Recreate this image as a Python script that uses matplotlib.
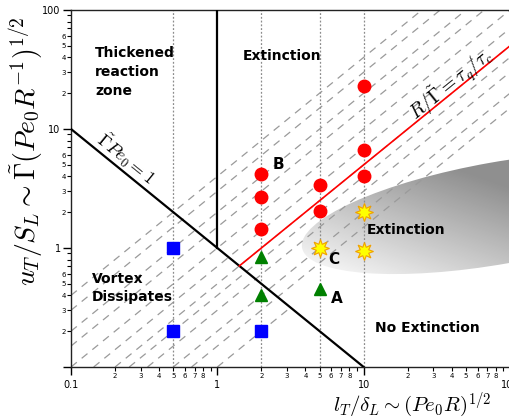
import numpy as np
import matplotlib
matplotlib.use('Agg')
import matplotlib.pyplot as plt
from matplotlib.patches import Ellipse
from matplotlib.ticker import LogLocator, FuncFormatter

plt.rcParams['mathtext.fontset'] = 'cm'

# simulated cases, x = l_T/delta_L, y = u_T/S_L
circle_x = [2, 2, 2, 5, 5, 10, 10, 10]
circle_y = [4.2, 2.7, 1.45, 3.4, 2.05, 23.0, 6.6, 4.0]
triangle_x = [2, 2, 5]
triangle_y = [0.84, 0.4, 0.455]
square_x = [0.5, 0.5, 2]
square_y = [1.0, 0.2, 0.2]
star_x = [10, 5, 10]
star_y = [2.0, 1.0, 0.95]

# dotted verticals at the simulated length scales
case_lengths = [0.5, 2, 5, 10]
# dashed guides u/S = c * l/delta (constant R/Gamma)
guide_c = [0.1, 0.15, 0.2, 0.3, 0.4, 0.5, 0.7, 1.0, 1.5, 2.0, 3.0, 4.0]
quench_c = 0.5      # R/Gamma = tau_q/tau_c
gamma_pe = 1.0      # Gamma*Pe0 = 1 line
x_lim = (0.1, 100)
y_lim = (0.1, 100)

fig = plt.figure(figsize=(5.1, 4.18), dpi=100)
ax = fig.add_axes([71/510, 51/418, 439/510, 357/418])
ax.set_xscale('log')
ax.set_yscale('log')

# shaded extinction region (gradient ellipse, in figure inches)
ell = Ellipse((4.99, 2.05), 4.0, 1.02, angle=10, transform=fig.dpi_scale_trans,
              facecolor='none', edgecolor='none')
ax.add_patch(ell)
gx = np.linspace(2.8, 5.2, 240)
gy = np.linspace(1.3, 2.8, 150)
GX, GY = np.meshgrid(gx, gy)
shade = np.clip(1.67 - 0.095 * GX - 0.27 * GY, 0.56, 0.955)
im = ax.imshow(shade, cmap='gray', vmin=0, vmax=1, origin='lower',
               extent=(2.8, 5.2, 1.3, 2.8), transform=fig.dpi_scale_trans,
               aspect='auto', interpolation='bilinear', zorder=1)
im.set_clip_path(ell)

# dashed guides
for c in guide_c:
    x0 = max(x_lim[0], y_lim[0] / c)
    x1 = min(x_lim[1], y_lim[1] / c)
    if c < 0.15:
        x1 = np.sqrt(gamma_pe / c)   # stops on the Gamma Pe0 = 1 line
    xs = np.array([x0, x1])
    ax.plot(xs, c * xs, color='#9a9a9a', lw=0.9, dashes=(6, 5), zorder=2)

for xv in case_lengths:
    ax.plot([xv, xv], y_lim, color='#8c8c8c', lw=0.9, dashes=(1.5, 1.5), zorder=2)

# regime boundaries
xb = np.array([0.1, 10])
ax.plot(xb, gamma_pe / xb, color='black', lw=1.6, zorder=3)
ax.plot([1, 1], [1, 100], color='black', lw=1.6, zorder=3)
xr = np.array([np.sqrt(gamma_pe / quench_c), 100])
ax.plot(xr, quench_c * xr, color='red', lw=1.2, zorder=3)

ax.plot(circle_x, circle_y, 'o', color='red', ms=9, mec='red', zorder=4)
ax.plot(triangle_x, triangle_y, '^', color='green', ms=9, mec='green', zorder=4)
ax.plot(square_x, square_y, 's', color='blue', ms=8.5, mec='blue', zorder=4)
ax.plot(star_x, star_y, marker=(8, 1, 0), ls='none', color='#ffff00', ms=13,
        mec='#f0a000', mew=0.8, zorder=4)

ax.set_xlim(x_lim)
ax.set_ylim(y_lim)

# region labels
bold = dict(fontsize=10, fontweight='bold', transform=ax.transAxes, ha='left', va='top', zorder=5)
ax.text(0.055, 0.898, 'Thickened\nreaction\nzone', linespacing=1.45, **bold)
ax.text(0.392, 0.890, 'Extinction', **bold)
ax.text(0.048, 0.265, 'Vortex\nDissipates', linespacing=1.3, **bold)
ax.text(0.674, 0.402, 'Extinction', **bold)
ax.text(0.692, 0.128, 'No Extinction', **bold)
pts = dict(fontsize=11, fontweight='bold', transform=ax.transAxes, ha='left', va='top', zorder=5)
ax.text(0.460, 0.588, 'B', **pts)
ax.text(0.585, 0.322, 'C', **pts)
ax.text(0.592, 0.213, 'A', **pts)

ax.text(0.125, 0.583, r'$\tilde{\Gamma}Pe_0 = 1$', fontsize=13, rotation=-39,
        rotation_mode='anchor', ha='center', va='center', transform=ax.transAxes)
ax.text(0.866, 0.792, r'$R/\tilde{\Gamma} = \tau_q/\tau_c$', fontsize=14, rotation=39,
        rotation_mode='anchor', ha='center', va='center', transform=ax.transAxes)

# ticks
def major_x(v, pos):
    return '%g' % v

def major_y(v, pos):
    return '%g' % v if v >= 1 else ''

def minor_lab(top):
    def f(v, pos):
        m = int(round(v / 10 ** np.floor(np.log10(v) + 1e-9)))
        return str(m) if 2 <= m <= top else ''
    return f

for axis in (ax.xaxis, ax.yaxis):
    axis.set_major_locator(LogLocator(base=10, numticks=10))
    axis.set_minor_locator(LogLocator(base=10, subs=np.arange(2, 10), numticks=30))
ax.xaxis.set_major_formatter(FuncFormatter(major_x))
ax.yaxis.set_major_formatter(FuncFormatter(major_y))
ax.xaxis.set_minor_formatter(FuncFormatter(minor_lab(8)))
ax.yaxis.set_minor_formatter(FuncFormatter(minor_lab(6)))

ax.tick_params(which='major', direction='out', length=6, width=1, labelsize=7)
ax.tick_params(which='minor', direction='out', length=3, width=0.8, labelsize=5)
ax.tick_params(axis='x', which='major', pad=3.5)
ax.tick_params(axis='x', which='minor', pad=1.5)
ax.tick_params(axis='y', which='major', pad=1.5)
ax.tick_params(axis='y', which='minor', pad=0.5)

for s in ('left', 'bottom', 'top'):
    ax.spines[s].set_linewidth(1.0)
    ax.spines[s].set_color('#222222')
ax.spines['right'].set_visible(False)

ax.set_xlabel(r'$l_T/\delta_L \sim (Pe_0R)^{1/2}$', fontsize=15)
ax.xaxis.set_label_coords(0.777, -0.066)
ax.set_ylabel(r'$u_T/S_L \sim \tilde{\Gamma}(Pe_0R^{-1})^{1/2}$', fontsize=20)
ax.yaxis.set_label_coords(-0.059, 0.605)

fig.savefig('out.png', dpi=100)
